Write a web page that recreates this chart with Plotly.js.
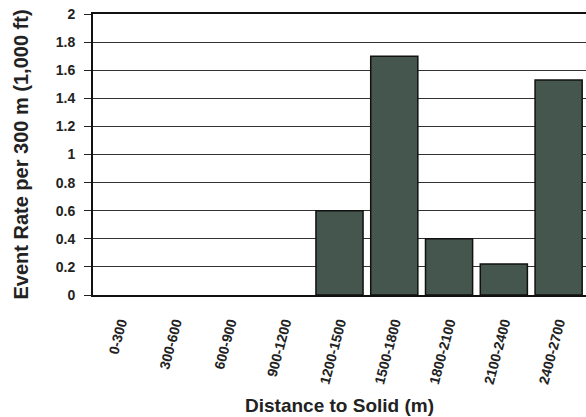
<!DOCTYPE html>
<html>
<head>
<meta charset="utf-8">
<script src="https://cdn.plot.ly/plotly-3.0.1.min.js"></script>
<style>html,body{margin:0;padding:0;background:#fff;}#chart{width:586px;height:417px;}</style>
</head>
<body>
<div id="chart"></div>
<script>
const categories = ["0-300","300-600","600-900","900-1200","1200-1500","1500-1800","1800-2100","2100-2400","2400-2700"];
const eventRates = [0, 0, 0, 0, 0.6, 1.7, 0.4, 0.22, 1.53];
const yTicks = [0, 0.2, 0.4, 0.6, 0.8, 1, 1.2, 1.4, 1.6, 1.8, 2];
const yTickLabels = ["0","0.2","0.4","0.6","0.8","1","1.2","1.4","1.6","1.8","2"];

const font = "Liberation Sans, Arial, sans-serif";
Plotly.newPlot("chart", [{
  type: "bar",
  x: categories,
  y: eventRates,
  marker: {color: "#44564d", line: {color: "#111", width: eventRates.map(v => v > 0 ? 1.5 : 0)}},
  hoverinfo: "x+y"
}], {
  width: 586, height: 417,
  margin: {l: 93, r: 0, t: 14, b: 122},
  paper_bgcolor: "#fff", plot_bgcolor: "#fff",
  bargap: 0.14,
  showlegend: false,
  xaxis: {
    type: "category",
    tickangle: -75,
    tickfont: {family: font, size: 14, color: "#222", weight: "bold"},
    ticklabelstandoff: 12,
    showline: true, linecolor: "#111", linewidth: 2, mirror: true,
    ticks: "", showgrid: false,
    title: {text: "<b>Distance to Solid (m)</b>", font: {family: font, size: 19, color: "#222"}, standoff: 14}
  },
  yaxis: {
    range: [0, 2],
    tickvals: yTicks, ticktext: yTickLabels,
    tickfont: {family: font, size: 14, color: "#222", weight: "bold"},
    ticklabelstandoff: 6,
    showline: true, linecolor: "#111", linewidth: 2, mirror: false,
    ticks: "outside", ticklen: 7, tickcolor: "#222",
    showgrid: true, gridcolor: "#333", gridwidth: 1,
    zeroline: false,
    title: {text: "<b>Event Rate per 300 m (1,000 ft)</b>", font: {family: font, size: 20, color: "#222"}, standoff: 22}
  }
}, {displayModeBar: false, staticPlot: true});
</script>
</body>
</html>
